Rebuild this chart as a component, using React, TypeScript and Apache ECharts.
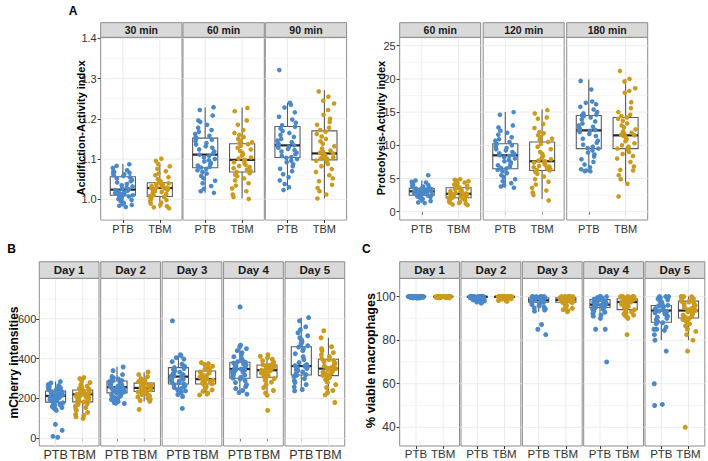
import { useEffect, useRef } from 'react';
import * as echarts from 'echarts';

const GROUPS = ['PTB', 'TBM'];

// ---------- Panel A (left): acidification ----------
const ACID_FACETS = ['30 min', '60 min', '90 min'];
const ACID_TICKS = [1.0, 1.1, 1.2, 1.3, 1.4];
const ACID_MINOR = [0.95, 1.05, 1.15, 1.25, 1.35];
const ACID_PTB_30 = [1.087, 1.083, 1.078, 1.072, 1.070, 1.068, 1.066, 1.064, 1.062, 1.060, 1.058, 1.055, 1.052, 1.048, 1.045, 1.042, 1.038, 1.035, 1.032, 1.029, 1.027, 1.025, 1.024, 1.023, 1.021, 1.019, 1.017, 1.015, 1.013, 1.012, 1.011, 1.010, 1.010, 1.009, 1.007, 1.004, 1.001, 0.998, 0.995, 0.992, 0.990, 0.988, 0.986, 0.984, 0.981];
const ACID_TBM_30 = [1.101, 1.095, 1.088, 1.082, 1.076, 1.070, 1.064, 1.060, 1.055, 1.050, 1.046, 1.043, 1.041, 1.040, 1.038, 1.036, 1.035, 1.033, 1.032, 1.031, 1.030, 1.029, 1.028, 1.027, 1.026, 1.025, 1.023, 1.022, 1.020, 1.018, 1.016, 1.013, 1.010, 1.008, 1.006, 1.004, 1.001, 0.998, 0.995, 0.992, 0.989, 0.986, 0.983, 0.980, 0.978];
const ACID_PTB_60 = [1.229, 1.222, 1.208, 1.196, 1.192, 1.185, 1.178, 1.172, 1.168, 1.162, 1.158, 1.155, 1.152, 1.148, 1.145, 1.140, 1.136, 1.132, 1.128, 1.124, 1.119, 1.114, 1.111, 1.108, 1.104, 1.100, 1.097, 1.094, 1.090, 1.087, 1.084, 1.081, 1.079, 1.076, 1.072, 1.068, 1.064, 1.058, 1.052, 1.046, 1.040, 1.033, 1.026, 1.020, 1.016];
const ACID_TBM_60 = [1.227, 1.219, 1.196, 1.185, 1.172, 1.165, 1.160, 1.155, 1.150, 1.146, 1.142, 1.139, 1.137, 1.133, 1.128, 1.124, 1.120, 1.116, 1.112, 1.108, 1.104, 1.101, 1.098, 1.095, 1.092, 1.089, 1.086, 1.083, 1.080, 1.077, 1.074, 1.071, 1.068, 1.065, 1.061, 1.057, 1.052, 1.047, 1.040, 1.034, 1.027, 1.020, 1.012, 1.006, 1.001];
const ACID_PTB_90 = [1.321, 1.240, 1.235, 1.228, 1.216, 1.205, 1.198, 1.190, 1.184, 1.180, 1.176, 1.170, 1.165, 1.160, 1.155, 1.150, 1.146, 1.142, 1.139, 1.136, 1.134, 1.132, 1.130, 1.128, 1.125, 1.122, 1.119, 1.116, 1.112, 1.108, 1.105, 1.103, 1.100, 1.096, 1.092, 1.087, 1.082, 1.076, 1.070, 1.062, 1.055, 1.047, 1.038, 1.030, 1.023];
const ACID_TBM_90 = [1.268, 1.255, 1.245, 1.238, 1.222, 1.210, 1.200, 1.192, 1.185, 1.178, 1.172, 1.168, 1.162, 1.156, 1.150, 1.144, 1.138, 1.132, 1.126, 1.121, 1.118, 1.116, 1.114, 1.112, 1.110, 1.108, 1.106, 1.104, 1.102, 1.100, 1.098, 1.096, 1.092, 1.088, 1.082, 1.075, 1.068, 1.060, 1.052, 1.045, 1.036, 1.028, 1.020, 1.012, 1.002];
// [lower whisker, Q1, median, Q3, upper whisker]
const ACID_BOX_PTB = [[0.983, 1.010, 1.024, 1.056, 1.088], [1.016, 1.0785, 1.111, 1.152, 1.229], [1.023, 1.104, 1.134, 1.181, 1.240]];
const ACID_BOX_TBM = [[0.978, 1.007, 1.028, 1.041, 1.088], [1.002, 1.068, 1.098, 1.138, 1.228], [1.002, 1.098, 1.114, 1.170, 1.271]];

// ---------- Panel A (right): proteolysis ----------
const PROT_FACETS = ['60 min', '120 min', '180 min'];
const PROT_TICKS = [0, 5, 10, 15, 20, 25];
const PROT_MINOR = [2.5, 7.5, 12.5, 17.5, 22.5];
const PROT_PTB_60 = [5.5, 4.7, 4.5, 4.4, 4.3, 4.1, 4.0, 3.9, 3.8, 3.7, 3.6, 3.55, 3.5, 3.45, 3.4, 3.35, 3.3, 3.25, 3.2, 3.15, 3.1, 3.07, 3.05, 3.0, 2.95, 2.9, 2.85, 2.8, 2.75, 2.7, 2.65, 2.6, 2.55, 2.5, 2.45, 2.4, 2.3, 2.2, 2.1, 2.0, 1.9, 1.8, 1.6, 1.4, 1.3];
const PROT_TBM_60 = [4.9, 4.8, 4.7, 4.6, 4.5, 4.4, 4.3, 4.1, 3.9, 3.8, 3.7, 3.65, 3.6, 3.5, 3.4, 3.3, 3.2, 3.1, 3.0, 2.9, 2.8, 2.75, 2.7, 2.65, 2.6, 2.5, 2.45, 2.4, 2.35, 2.3, 2.2, 2.15, 2.1, 2.05, 2.0, 1.9, 1.8, 1.7, 1.6, 1.5, 1.4, 1.3, 1.2, 1.1, 1.0];
const PROT_PTB_120 = [15.0, 14.6, 13.0, 12.7, 12.2, 11.9, 11.6, 11.2, 10.9, 10.7, 10.5, 10.3, 10.2, 10.0, 9.8, 9.6, 9.4, 9.2, 9.0, 8.8, 8.7, 8.6, 8.5, 8.4, 8.2, 8.0, 7.8, 7.6, 7.4, 7.2, 7.0, 6.8, 6.6, 6.5, 6.3, 6.1, 5.8, 5.5, 5.2, 4.9, 4.6, 4.3, 4.0, 3.8, 3.6];
const PROT_TBM_120 = [15.3, 14.8, 14.2, 14.0, 13.2, 12.6, 12.0, 11.8, 11.5, 11.2, 11.0, 10.8, 10.5, 10.2, 9.8, 9.4, 9.0, 8.7, 8.4, 8.1, 7.9, 7.7, 7.6, 7.5, 7.4, 7.2, 7.0, 6.9, 6.8, 6.7, 6.5, 6.4, 6.3, 6.2, 6.0, 5.7, 5.3, 4.9, 4.5, 4.1, 3.6, 3.2, 2.9, 2.5, 1.7];
const PROT_PTB_180 = [19.7, 18.4, 16.6, 16.4, 16.2, 15.8, 15.4, 15.0, 14.8, 14.6, 14.5, 14.4, 14.2, 13.9, 13.6, 13.3, 13.0, 12.8, 12.6, 12.4, 12.3, 12.25, 12.2, 12.0, 11.7, 11.4, 11.0, 10.7, 10.4, 10.1, 9.8, 9.6, 9.5, 9.2, 8.9, 8.6, 8.3, 7.9, 7.5, 7.1, 6.7, 6.4, 6.2, 6.1, 6.1];
const PROT_TBM_180 = [21.2, 20.0, 19.6, 18.6, 18.2, 17.9, 16.5, 15.6, 15.0, 14.6, 14.4, 14.2, 14.0, 13.7, 13.3, 13.0, 12.7, 12.4, 12.1, 11.9, 11.7, 11.6, 11.5, 11.4, 11.2, 10.9, 10.6, 10.3, 10.0, 9.8, 9.6, 9.5, 9.3, 9.0, 8.7, 8.4, 8.0, 7.5, 6.8, 6.3, 6.2, 5.5, 4.9, 4.2, 2.3];
const PROT_BOX_PTB = [[1.3, 2.47, 3.07, 3.52, 4.7], [3.6, 6.48, 8.49, 10.24, 15.0], [6.1, 9.5, 12.25, 14.5, 19.9]];
const PROT_BOX_TBM = [[1.0, 2.1, 2.7, 3.6, 5.0], [1.9, 6.2, 7.6, 10.5, 15.4], [4.4, 9.5, 11.5, 14.2, 20.0]];

// ---------- Panel B: mCherry ----------
const DAY_FACETS = ['Day 1', 'Day 2', 'Day 3', 'Day 4', 'Day 5'];
const MCH_TICKS = [0, 200, 400, 600];
const MCH_MINOR = [100, 300, 500, 700];
const MCH_PTB_D1 = [285, 278, 270, 265, 262, 258, 254, 250, 247, 244, 241, 238, 235, 232, 229, 226, 223, 220, 217, 215, 213, 211, 209, 206, 203, 200, 197, 194, 191, 188, 185, 182, 178, 174, 170, 165, 160, 155, 150, 145, 140, 70, 40, 10, 5];
const MCH_TBM_D1 = [305, 300, 290, 280, 270, 262, 256, 250, 246, 243, 240, 237, 234, 231, 228, 225, 222, 221, 220, 218, 216, 213, 210, 206, 202, 198, 194, 190, 186, 183, 180, 175, 170, 162, 155, 148, 140, 130, 120, 115, 108, 100];
const MCH_PTB_D2 = [358, 340, 320, 310, 303, 298, 293, 290, 287, 284, 280, 276, 272, 268, 265, 262, 259, 257, 255, 252, 249, 246, 243, 240, 237, 234, 231, 228, 225, 221, 217, 212, 206, 200, 195, 190, 185, 180, 176, 175];
const MCH_TBM_D2 = [333, 320, 310, 300, 292, 285, 280, 277, 274, 271, 268, 265, 262, 259, 256, 253, 251, 249, 247, 245, 243, 240, 238, 235, 232, 228, 224, 220, 214, 208, 202, 196, 190, 186, 145];
const MCH_PTB_D3 = [590, 420, 415, 405, 398, 385, 372, 362, 355, 350, 345, 338, 332, 326, 320, 315, 312, 310, 307, 303, 298, 293, 288, 283, 278, 274, 270, 265, 260, 255, 250, 244, 238, 230, 220, 210, 150];
const MCH_TBM_D3 = [380, 375, 370, 362, 355, 348, 342, 338, 333, 327, 320, 314, 308, 303, 299, 297, 295, 292, 289, 285, 281, 277, 273, 269, 265, 258, 250, 243, 236, 228, 222, 218];
const MCH_PTB_D4 = [660, 468, 460, 450, 440, 430, 420, 410, 400, 392, 385, 382, 378, 374, 370, 365, 360, 355, 350, 348, 346, 343, 340, 336, 332, 327, 322, 317, 312, 307, 302, 297, 290, 280, 270, 260, 250, 240, 230, 222];
const MCH_TBM_D4 = [420, 412, 405, 398, 390, 382, 375, 370, 367, 364, 360, 356, 352, 348, 345, 342, 340, 337, 333, 328, 322, 316, 310, 306, 300, 292, 282, 270, 255, 240, 228, 216, 140];
const MCH_PTB_D5 = [606, 590, 560, 545, 530, 515, 505, 495, 485, 475, 465, 458, 450, 440, 425, 410, 395, 380, 370, 365, 362, 358, 355, 350, 345, 340, 333, 326, 320, 316, 310, 300, 290, 280, 270, 258, 245, 238];
const MCH_TBM_D5 = [540, 505, 460, 450, 440, 430, 420, 410, 400, 395, 390, 385, 378, 370, 362, 355, 352, 350, 348, 345, 342, 338, 334, 330, 325, 320, 316, 312, 305, 295, 282, 270, 255, 240, 230, 218, 180];
const MCH_BOX_PTB = [[140, 182, 213, 238, 285], [175, 228, 257, 288, 360], [210, 273, 310, 355, 420], [220, 302, 348, 382, 468], [238, 318, 363, 460, 606]];
const MCH_BOX_TBM = [[100, 183, 221, 243, 305], [185, 235, 253, 277, 330], [220, 273, 297, 338, 380], [215, 307, 342, 368, 420], [218, 315, 350, 397, 505]];

// ---------- Panel C: viability ----------
const VIA_TICKS = [40, 60, 80, 100];
const VIA_MINOR = [50, 70, 90];
const VIA_PTB_D1 = [100, 100, 100, 100, 100, 100, 100, 100, 100, 100, 100, 100, 100, 100, 100, 99.8, 99.8, 99.7, 99.7, 99.6, 99.6, 99.5, 99.5, 99.5, 99.4, 99.4, 99.3, 100, 100, 100, 100, 100, 100, 100, 100, 99.9, 99.9, 99.9, 99.8, 99.8];
const VIA_TBM_D1 = [100, 100, 100, 100, 100, 100, 100, 100, 100, 100, 100, 100, 100, 100, 100, 100, 99.9, 99.8, 99.8, 99.7, 99.6, 99.6, 99.5, 99.5, 99.4, 99.4, 100, 100, 100, 100, 100, 100, 100, 99.9, 99.9, 99.8, 99.8, 99.7];
const VIA_PTB_D2 = [100, 100, 100, 100, 100, 100, 100, 100, 100, 100, 100, 100, 100, 99.8, 99.6, 99.5, 99.4, 99.3, 99.2, 99.0, 98.9, 98.7, 98.5, 98.3, 98.2, 98.0, 97.8, 97.5, 97.2, 97.0, 100, 100, 100, 100, 99.9, 99.8, 99.7];
const VIA_TBM_D2 = [100, 100, 100, 100, 100, 100, 100, 100, 100, 100, 100, 100, 99.9, 99.8, 99.7, 99.6, 99.5, 99.4, 99.3, 99.2, 99.0, 98.8, 98.6, 98.4, 98.2, 98.0, 97.8, 100, 100, 100, 99.9, 99.8];
const VIA_PTB_D3 = [100, 100, 100, 100, 100, 100, 99.8, 99.6, 99.5, 99.4, 99.2, 99.0, 98.8, 98.6, 98.4, 98.3, 98.2, 98.0, 97.8, 97.6, 97.4, 97.2, 96.8, 96.3, 95.8, 95.3, 94.8, 94.3, 93.8, 93.3, 87.2, 85.0, 82.5];
const VIA_TBM_D3 = [100, 100, 100, 100, 100, 100, 100, 99.8, 99.6, 99.5, 99.3, 99.1, 98.9, 98.7, 98.6, 98.5, 98.4, 98.2, 98.0, 97.8, 97.6, 97.4, 97.2, 96.8, 96.3, 95.8, 95.2, 94.6, 94.0, 93.5, 93.0];
const VIA_PTB_D4 = [100, 100, 100, 100, 99.5, 99.2, 99.0, 98.8, 98.6, 98.4, 98.1, 97.8, 97.5, 97.2, 97.0, 96.8, 96.5, 96.3, 96.1, 95.9, 95.6, 95.3, 95.0, 94.6, 94.2, 93.8, 93.3, 92.8, 92.2, 91.5, 91.0, 90.0, 85.0, 85.0, 70.0];
const VIA_TBM_D4 = [100, 100, 100, 100, 100, 100, 99.8, 99.5, 99.2, 99.0, 98.8, 98.5, 98.2, 98.0, 97.8, 97.6, 97.5, 97.3, 97.0, 96.5, 96.0, 95.5, 95.0, 94.5, 94.0, 93.5, 93.0, 92.5, 92.0, 91.5, 91.0, 90.5, 90.0, 82.5];
const VIA_PTB_D5 = [100, 100, 100, 99.5, 99.0, 98.5, 98.0, 97.5, 97.0, 96.5, 96.0, 95.8, 95.5, 95.0, 94.5, 94.0, 93.6, 93.4, 93.0, 92.5, 92.0, 91.0, 90.5, 90.0, 89.5, 88.5, 88.0, 87.5, 86.0, 85.0, 85.0, 84.5, 82.5, 80.0, 75.0, 60.0, 50.5, 50.0];
const VIA_TBM_D5 = [100, 100, 100, 100, 99.5, 99.0, 98.5, 98.0, 97.8, 97.5, 97.0, 96.5, 96.0, 95.5, 95.0, 94.5, 94.0, 93.6, 93.4, 93.0, 92.5, 92.0, 91.5, 91.0, 90.5, 90.0, 89.5, 88.5, 87.5, 86.5, 85.0, 84.0, 82.5, 80.0, 75.0, 40.0];
const VIA_BOX_PTB = [[100, 100, 100, 100, 100], [98.8, 99.6, 100, 100, 100], [93, 97.4, 98.3, 99.5, 100], [90, 95, 96.3, 98.6, 100], [80, 88.2, 93.6, 95.9, 100]];
const VIA_BOX_TBM = [[100, 100, 100, 100, 100], [99, 99.6, 100, 100, 100], [93, 97.4, 98.5, 99.5, 100], [90, 94, 97.5, 99, 100], [80, 90.2, 93.6, 97.9, 100]];

// ---------- styling / layout ----------
const FONT = '"Liberation Sans", Arial, Helvetica, sans-serif';
const COLORS = ['#4a88c9', '#cc9a1c'];
const BORDER = '#8c8c8c';
const GRID_COLOR = '#ebebeb';
const X_MIN = 0.4;
const X_MAX = 2.6;
const JITTER_W = 0.28;
const JITTER = [0.62, -0.35, 0.11, -0.88, 0.47, -0.12, 0.93, -0.61, 0.28, -0.74, 0.05, 0.81, -0.43, 0.36, -0.97, 0.19, -0.27, 0.69, -0.52, 0.84, -0.08, 0.41, -0.79, 0.15, -0.58, 0.73, -0.19, 0.55, -0.91, 0.24, -0.38, 0.88, -0.66, 0.02, 0.51, -0.84, 0.33, -0.15, 0.77, -0.47, 0.09, -0.71, 0.64, -0.29, 0.96, -0.55, 0.18, -0.02, 0.45, -0.93, 0.71, -0.24, 0.38, -0.68, 0.86, -0.41, 0.13, -0.82, 0.58, -0.11];

const PANELS = [
  {
    facets: ACID_FACETS, ptb: [ACID_PTB_30, ACID_PTB_60, ACID_PTB_90], tbm: [ACID_TBM_30, ACID_TBM_60, ACID_TBM_90],
    boxPtb: ACID_BOX_PTB, boxTbm: ACID_BOX_TBM, ticks: ACID_TICKS, minor: ACID_MINOR, yMin: 0.9486, yMax: 1.4025, decimals: 1,
    title: 'Acidifiction-Activity index', letter: 'A',
    layout: { left0: 100.7, step: 82.3, width: 81.3, stripTop: 22.7, panelTop: 37.3, panelBottom: 220, titleX: 81, titleY: 128, titleSize: 11, letterX: 73, letterY: 10.5, yFont: 11, xFont: 11, stripFont: 10.5, yMargin: 4, xMargin: 3, dot: 4.6, boxW: 0.68 },
  },
  {
    facets: PROT_FACETS, ptb: [PROT_PTB_60, PROT_PTB_120, PROT_PTB_180], tbm: [PROT_TBM_60, PROT_TBM_120, PROT_TBM_180],
    boxPtb: PROT_BOX_PTB, boxTbm: PROT_BOX_TBM, ticks: PROT_TICKS, minor: PROT_MINOR, yMin: -1.25, yMax: 26.27, decimals: 0,
    title: 'Proteolysis-Activity index', letter: '',
    layout: { left0: 399.7, step: 83.5, width: 81, stripTop: 22.7, panelTop: 37.3, panelBottom: 220, titleX: 380.5, titleY: 128, titleSize: 11, letterX: 0, letterY: 0, yFont: 11, xFont: 11, stripFont: 10.5, yMargin: 4, xMargin: 3, dot: 4.6, boxW: 0.68 },
  },
  {
    facets: DAY_FACETS, ptb: [MCH_PTB_D1, MCH_PTB_D2, MCH_PTB_D3, MCH_PTB_D4, MCH_PTB_D5], tbm: [MCH_TBM_D1, MCH_TBM_D2, MCH_TBM_D3, MCH_TBM_D4, MCH_TBM_D5],
    boxPtb: MCH_BOX_PTB, boxTbm: MCH_BOX_TBM, ticks: MCH_TICKS, minor: MCH_MINOR, yMin: -38.5, yMax: 803.5, decimals: 0,
    title: 'mCherry intensities', letter: 'B',
    layout: { left0: 39.3, step: 61.43, width: 59.7, stripTop: 261.7, panelTop: 278.3, panelBottom: 446.7, titleX: 14, titleY: 362.5, titleSize: 12, letterX: 11.5, letterY: 248.7, yFont: 11, xFont: 12.5, stripFont: 11.5, yMargin: 3, xMargin: 2, dot: 5, boxW: 0.74 },
  },
  {
    facets: DAY_FACETS, ptb: [VIA_PTB_D1, VIA_PTB_D2, VIA_PTB_D3, VIA_PTB_D4, VIA_PTB_D5], tbm: [VIA_TBM_D1, VIA_TBM_D2, VIA_TBM_D3, VIA_TBM_D4, VIA_TBM_D5],
    boxPtb: VIA_BOX_PTB, boxTbm: VIA_BOX_TBM, ticks: VIA_TICKS, minor: VIA_MINOR, yMin: 31.4, yMax: 108.4, decimals: 0,
    title: '% viable macrophages', letter: 'C',
    layout: { left0: 399.7, step: 61.33, width: 59.8, stripTop: 261.7, panelTop: 278.3, panelBottom: 446, titleX: 370.7, titleY: 360.5, titleSize: 12.5, letterX: 366.3, letterY: 249, yFont: 12, xFont: 11.5, stripFont: 11.5, yMargin: 4, xMargin: 2, dot: 5, boxW: 0.74 },
  },
];

// Draws the panel's major/minor horizontal and major vertical grid lines in one item.
function makeGridRender(ticks: number[], minor: number[]) {
  return function gridRender(params: any, api: any) {
    const cs = params.coordSys;
    const children: any[] = [];
    const hline = (v: number, w: number) => {
      const y = api.coord([1, v])[1];
      if (y < cs.y - 0.5 || y > cs.y + cs.height + 0.5) return;
      children.push({ type: 'line', shape: { x1: cs.x, y1: y, x2: cs.x + cs.width, y2: y }, style: { stroke: GRID_COLOR, lineWidth: w } });
    };
    minor.forEach((v) => hline(v, 0.5));
    ticks.forEach((v) => hline(v, 1));
    [1, 2].forEach((c) => {
      const x = api.coord([c, ticks[0]])[0];
      children.push({ type: 'line', shape: { x1: x, y1: cs.y, x2: x, y2: cs.y + cs.height }, style: { stroke: GRID_COLOR, lineWidth: 1 } });
    });
    return { type: 'group', children };
  };
}

function makeBoxRender(boxW: number) {
  return function boxRender(_params: any, api: any) {
    const x = api.value(0);
    const lo = api.value(1), q1 = api.value(2), med = api.value(3), q3 = api.value(4), hi = api.value(5);
    const hw = boxW / 2;
    const tl = api.coord([x - hw, q3]);
    const br = api.coord([x + hw, q1]);
    const mL = api.coord([x - hw, med]);
    const mR = api.coord([x + hw, med]);
    const pLo = api.coord([x, lo]);
    const pHi = api.coord([x, hi]);
    const pQ1 = api.coord([x, q1]);
    const pQ3 = api.coord([x, q3]);
    const stroke = '#5c5c5c';
    const children: any[] = [];
    if (pHi[1] < pQ3[1]) children.push({ type: 'line', shape: { x1: pHi[0], y1: pHi[1], x2: pQ3[0], y2: pQ3[1] }, style: { stroke, lineWidth: 1.1 } });
    if (pLo[1] > pQ1[1]) children.push({ type: 'line', shape: { x1: pQ1[0], y1: pQ1[1], x2: pLo[0], y2: pLo[1] }, style: { stroke, lineWidth: 1.1 } });
    children.push({ type: 'rect', shape: { x: tl[0], y: tl[1], width: br[0] - tl[0], height: br[1] - tl[1] }, style: { fill: '#ffffff', stroke, lineWidth: 1.1 } });
    children.push({ type: 'line', shape: { x1: mL[0], y1: mL[1], x2: mR[0], y2: mR[1] }, style: { stroke: '#262626', lineWidth: 2.2 } });
    return { type: 'group', children };
  };
}

function buildOption() {
  const grids: any[] = [];
  const xAxes: any[] = [];
  const yAxes: any[] = [];
  const series: any[] = [];
  const graphics: any[] = [];

  PANELS.forEach((p) => {
    const L = p.layout;
    const boxRender = makeBoxRender(L.boxW);
    const gridRender = makeGridRender(p.ticks, p.minor);
    p.facets.forEach((name, f) => {
      const gi = grids.length;
      const left = L.left0 + f * L.step;
      const first = f === 0;
      grids.push({
        left, top: L.panelTop, width: L.width, height: L.panelBottom - L.panelTop,
        show: true, borderColor: BORDER, borderWidth: 1, backgroundColor: '#ffffff', containLabel: false,
      });
      xAxes.push({
        type: 'value', gridIndex: gi, min: X_MIN, max: X_MAX,
        axisLine: { show: false }, splitLine: { show: false }, minorTick: { show: false },
        axisTick: { show: true, customValues: [1, 2], length: 3, lineStyle: { color: '#333333', width: 1 } },
        axisLabel: {
          show: true, customValues: [1, 2], formatter: (v: number) => GROUPS[Math.round(v) - 1] || '',
          fontSize: L.xFont, color: '#333333', margin: L.xMargin, fontFamily: FONT,
        },
      });
      const yAxis: any = {
        type: 'value', gridIndex: gi, min: p.yMin, max: p.yMax,
        axisLine: { show: false }, splitLine: { show: false }, minorTick: { show: false },
      };
      if (first) {
        yAxis.axisTick = { show: true, customValues: p.ticks, length: 3, lineStyle: { color: '#333333', width: 1 } };
        yAxis.axisLabel = {
          show: true, customValues: p.ticks, formatter: (v: number) => v.toFixed(p.decimals),
          fontSize: L.yFont, color: '#333333', margin: L.yMargin, fontFamily: FONT,
        };
      } else {
        yAxis.axisTick = { show: false };
        yAxis.axisLabel = { show: false };
      }
      yAxes.push(yAxis);
      series.push({
        type: 'custom', xAxisIndex: gi, yAxisIndex: gi, silent: true, z: 1,
        data: [[1, p.ticks[0]]], encode: { x: 0, y: 1 }, renderItem: gridRender,
      });
      series.push({
        type: 'custom', xAxisIndex: gi, yAxisIndex: gi, silent: true, z: 2,
        data: [[1, ...p.boxPtb[f]], [2, ...p.boxTbm[f]]], encode: { x: 0, y: [1, 2, 3, 4, 5] }, renderItem: boxRender,
      });
      [p.ptb[f], p.tbm[f]].forEach((vals, g) => {
        series.push({
          type: 'scatter', name: GROUPS[g], xAxisIndex: gi, yAxisIndex: gi, silent: true, z: 3,
          symbol: 'circle', symbolSize: L.dot, itemStyle: { color: COLORS[g], opacity: 1 },
          data: vals.map((v, i) => [g + 1 + JITTER[(i * 7 + f * 11 + g * 23) % JITTER.length] * JITTER_W, v]),
        });
      });
      graphics.push({
        type: 'rect', silent: true, z: 10,
        shape: { x: left, y: L.stripTop, width: L.width, height: L.panelTop - L.stripTop },
        style: { fill: '#d9d9d9', stroke: BORDER, lineWidth: 1 },
      });
      graphics.push({
        type: 'text', silent: true, z: 11, x: left + L.width / 2, y: (L.stripTop + L.panelTop) / 2,
        style: { text: name, fontSize: L.stripFont, fontWeight: 'bold', fontFamily: FONT, fill: '#1a1a1a', align: 'center', verticalAlign: 'middle' },
      });
    });
    graphics.push({
      type: 'text', silent: true, z: 11, x: L.titleX, y: L.titleY, rotation: Math.PI / 2,
      style: { text: p.title, fontSize: L.titleSize, fontWeight: 'bold', fontFamily: FONT, fill: '#000000', align: 'center', verticalAlign: 'middle' },
    });
    if (p.letter) {
      graphics.push({
        type: 'text', silent: true, z: 11, x: L.letterX, y: L.letterY,
        style: { text: p.letter, fontSize: 12, fontWeight: 'bold', fontFamily: FONT, fill: '#000000', align: 'center', verticalAlign: 'middle' },
      });
    }
  });

  return {
    animation: false,
    backgroundColor: '#ffffff',
    textStyle: { fontFamily: FONT },
    grid: grids,
    xAxis: xAxes,
    yAxis: yAxes,
    series,
    graphic: { elements: graphics },
  };
}

export default function App() {
  const ref = useRef<HTMLDivElement>(null);
  useEffect(() => {
    if (!ref.current) return;
    const chart = echarts.init(ref.current, undefined, { renderer: 'svg' });
    chart.setOption(buildOption() as any);
    return () => {
      chart.dispose();
    };
  }, []);
  return <div ref={ref} style={{ position: 'absolute', left: 0, top: 0, width: 708, height: 461, background: '#ffffff' }} />;
}
